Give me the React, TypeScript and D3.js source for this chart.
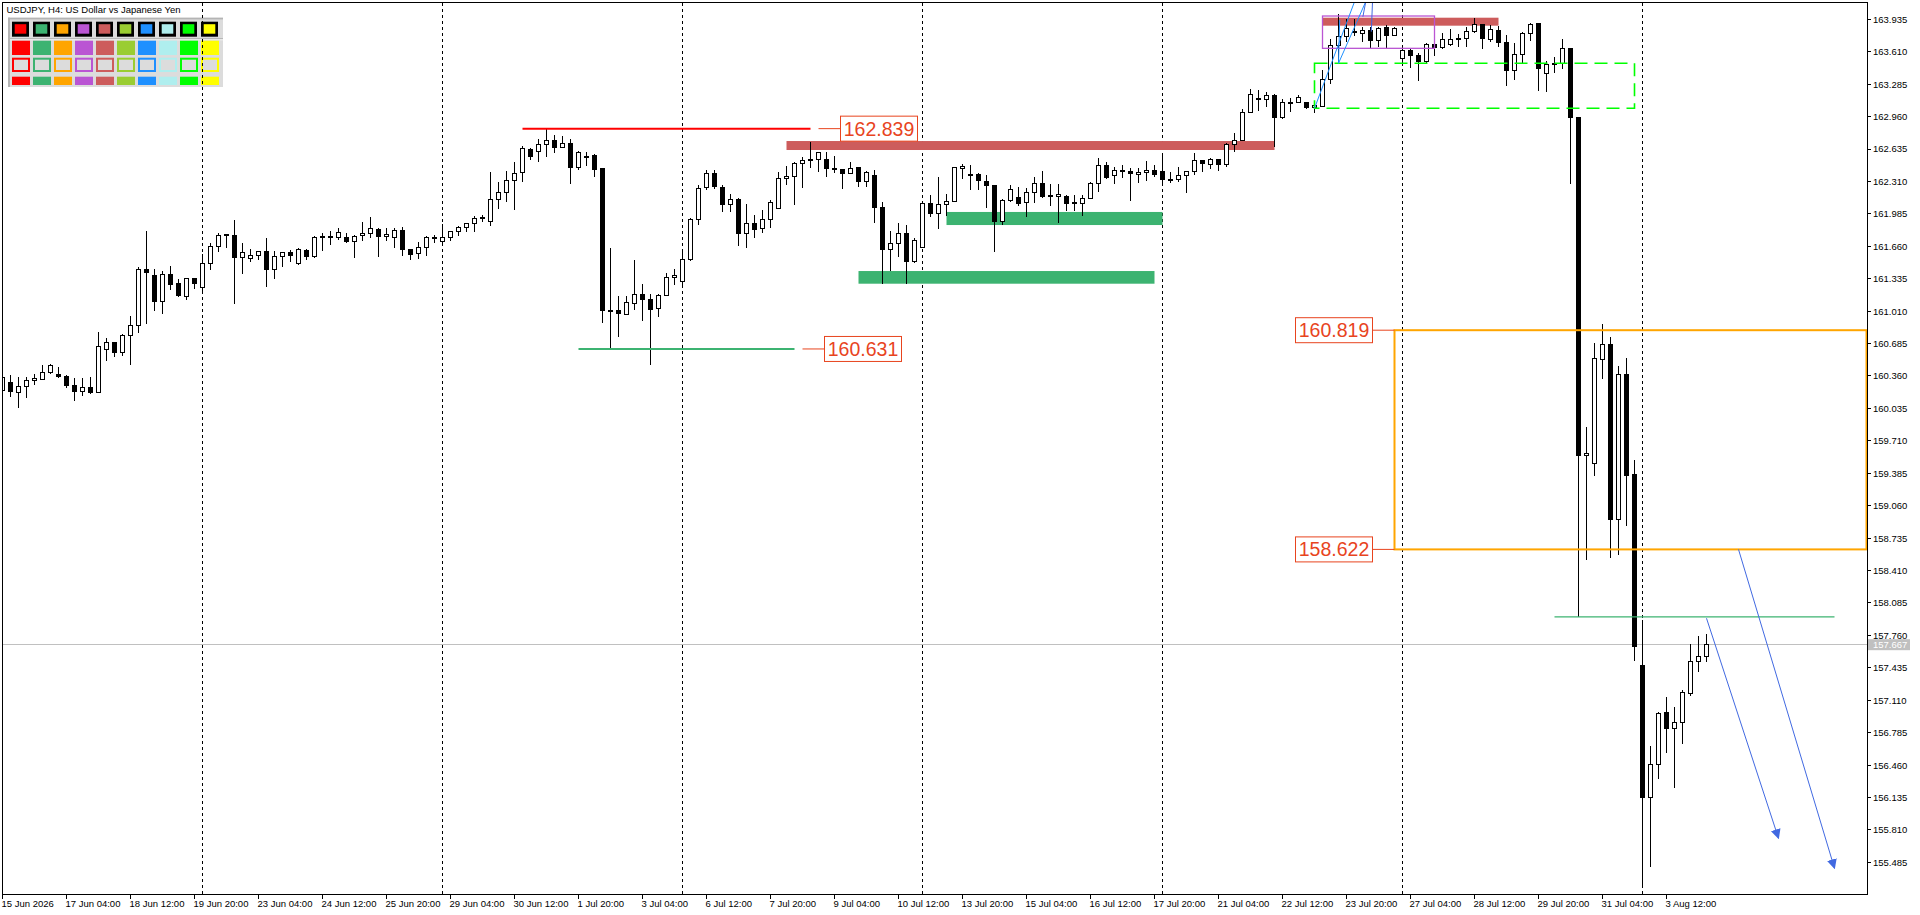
import React from "react";
import * as d3 from "d3";

const W = 1920;
const H = 915;

const openP = [
  160.213, 160.296, 160.196, 160.256, 160.316, 160.323, 160.393, 160.377, 160.357, 160.266,
  160.206, 160.246, 160.193, 160.627, 160.700, 160.597, 160.767, 160.868, 161.430, 161.363,
  161.105, 161.380, 161.283, 161.158, 161.339, 161.248, 161.490, 161.660, 161.770, 161.770,
  161.550, 161.540, 161.570, 161.610, 161.430, 161.553, 161.600, 161.486, 161.620, 161.560,
  161.753, 161.750, 161.750, 161.750, 161.710, 161.770, 161.790, 161.830, 161.757, 161.750,
  161.820, 161.630, 161.590, 161.650, 161.743, 161.707, 161.750, 161.810, 161.850, 161.890,
  161.937, 161.911, 162.131, 162.201, 162.318, 162.401, 162.632, 162.608, 162.682, 162.722,
  162.652, 162.692, 162.448, 162.555, 162.565, 162.435, 161.018, 161.021, 160.978, 161.088,
  161.178, 161.128, 161.041, 161.168, 161.352, 161.305, 161.523, 161.930, 162.248, 162.391,
  162.251, 162.074, 162.124, 161.790, 161.890, 161.840, 161.930, 162.040, 162.341, 162.358,
  162.491, 162.525, 162.532, 162.525, 162.441, 162.431, 162.391, 162.445, 162.308, 162.374,
  162.050, 161.629, 161.690, 161.790, 161.506, 161.650, 162.087, 161.990, 162.081, 162.111,
  162.441, 162.381, 162.378, 162.314, 162.271, 161.910, 162.114, 162.151, 162.100, 162.200,
  162.294, 162.167, 162.160, 162.154, 162.097, 162.090, 162.140, 162.291, 162.471, 162.374,
  162.421, 162.411, 162.384, 162.401, 162.421, 162.411, 162.334, 162.331, 162.371, 162.411,
  162.521, 162.481, 162.531, 162.478, 162.678, 162.718, 163.002, 163.139, 163.132, 163.172,
  162.949, 163.106, 163.102, 163.099, 163.052, 163.066, 163.333, 163.674, 163.767, 163.814,
  163.794, 163.824, 163.724, 163.854, 163.774, 163.540, 163.624, 163.574, 163.510, 163.684,
  163.650, 163.684, 163.744, 163.744, 163.811, 163.878, 163.734, 163.827, 163.704, 163.420,
  163.583, 163.794, 163.894, 163.393, 163.490, 163.487, 163.644, 162.952, 159.562, 159.481,
  160.527, 160.678, 158.923, 160.377, 159.375, 157.454, 156.134, 156.468, 156.989, 156.825,
  156.886, 157.180, 157.500, 157.550,
];

const highP = [
  160.353, 160.370, 160.347, 160.347, 160.376, 160.467, 160.477, 160.447, 160.367, 160.340,
  160.337, 160.347, 160.801, 160.744, 160.700, 160.777, 160.958, 161.453, 161.814, 161.430,
  161.413, 161.463, 161.333, 161.339, 161.339, 161.580, 161.690, 161.790, 161.780, 161.924,
  161.693, 161.630, 161.616, 161.743, 161.613, 161.606, 161.623, 161.643, 161.636, 161.760,
  161.790, 161.810, 161.840, 161.790, 161.773, 161.904, 161.950, 161.840, 161.840, 161.840,
  161.850, 161.630, 161.703, 161.763, 161.773, 161.880, 161.814, 161.864, 161.897, 161.961,
  161.977, 162.405, 162.305, 162.411, 162.505, 162.665, 162.642, 162.735, 162.836, 162.775,
  162.765, 162.739, 162.615, 162.602, 162.585, 162.435, 161.646, 161.165, 161.165, 161.523,
  161.282, 161.182, 161.178, 161.389, 161.432, 161.623, 161.940, 162.274, 162.425, 162.425,
  162.271, 162.181, 162.141, 162.084, 161.970, 162.024, 162.124, 162.408, 162.465, 162.501,
  162.558, 162.705, 162.608, 162.602, 162.565, 162.431, 162.501, 162.451, 162.415, 162.421,
  162.104, 161.817, 161.890, 161.870, 161.746, 162.101, 162.174, 162.351, 162.184, 162.458,
  162.488, 162.475, 162.391, 162.374, 162.278, 162.131, 162.278, 162.251, 162.247, 162.351,
  162.411, 162.284, 162.284, 162.174, 162.174, 162.174, 162.304, 162.545, 162.505, 162.451,
  162.471, 162.448, 162.448, 162.511, 162.478, 162.598, 162.408, 162.451, 162.418, 162.591,
  162.525, 162.541, 162.531, 162.691, 162.795, 163.035, 163.236, 163.226, 163.203, 163.182,
  163.132, 163.142, 163.176, 163.109, 163.102, 163.426, 163.737, 163.984, 163.934, 163.938,
  163.861, 163.861, 163.861, 163.878, 163.854, 163.644, 163.644, 163.594, 163.694, 163.694,
  163.794, 163.837, 163.784, 163.854, 163.945, 163.884, 163.878, 163.871, 163.777, 163.694,
  163.811, 163.894, 163.894, 163.517, 163.553, 163.737, 163.644, 162.960, 159.849, 160.687,
  160.881, 160.748, 160.460, 160.540, 159.518, 157.915, 156.655, 156.989, 157.146, 157.043,
  157.213, 157.674, 157.754, 157.774,
];

const lowP = [
  160.206, 160.153, 160.042, 160.143, 160.270, 160.316, 160.383, 160.343, 160.243, 160.113,
  160.163, 160.176, 160.186, 160.514, 160.554, 160.564, 160.473, 160.794, 160.884, 161.015,
  160.985, 161.226, 161.155, 161.125, 161.229, 161.198, 161.426, 161.606, 161.646, 161.078,
  161.386, 161.506, 161.519, 161.255, 161.336, 161.456, 161.506, 161.476, 161.526, 161.540,
  161.616, 161.673, 161.727, 161.693, 161.546, 161.717, 161.747, 161.553, 161.717, 161.646,
  161.563, 161.526, 161.530, 161.563, 161.697, 161.680, 161.717, 161.767, 161.807, 161.807,
  161.900, 161.867, 162.037, 162.107, 162.027, 162.308, 162.525, 162.505, 162.558, 162.598,
  162.642, 162.288, 162.421, 162.465, 162.358, 160.894, 160.631, 160.754, 160.975, 161.021,
  160.914, 160.473, 160.955, 161.165, 161.272, 161.255, 161.516, 161.873, 162.224, 162.234,
  162.007, 162.007, 161.666, 161.646, 161.746, 161.796, 161.847, 162.034, 162.274, 162.074,
  162.248, 162.441, 162.408, 162.358, 162.391, 162.238, 162.381, 162.251, 162.251, 161.890,
  161.282, 161.412, 161.549, 161.282, 161.489, 161.646, 161.950, 161.830, 161.964, 162.107,
  162.338, 162.228, 162.224, 162.040, 161.606, 161.873, 162.104, 162.064, 161.956, 162.090,
  162.140, 162.067, 161.890, 162.013, 162.016, 161.966, 162.134, 162.207, 162.334, 162.287,
  162.341, 162.117, 162.297, 162.314, 162.351, 162.280, 162.297, 162.307, 162.197, 162.377,
  162.404, 162.437, 162.418, 162.458, 162.605, 162.715, 162.992, 163.015, 163.059, 162.658,
  162.939, 163.002, 163.092, 163.035, 162.992, 163.059, 163.286, 163.493, 163.707, 163.771,
  163.710, 163.650, 163.660, 163.634, 163.771, 163.493, 163.450, 163.320, 163.483, 163.570,
  163.640, 163.670, 163.660, 163.660, 163.801, 163.634, 163.704, 163.660, 163.269, 163.330,
  163.493, 163.720, 163.219, 163.203, 163.393, 163.437, 162.287, 157.945, 158.516, 159.361,
  160.333, 158.539, 158.566, 158.860, 157.507, 155.225, 155.442, 156.321, 156.585, 156.234,
  156.675, 157.153, 157.397, 157.497,
];

const closeP = [
  160.347, 160.203, 160.256, 160.316, 160.330, 160.397, 160.467, 160.353, 160.263, 160.203,
  160.246, 160.193, 160.657, 160.700, 160.594, 160.767, 160.868, 161.430, 161.396, 161.105,
  161.380, 161.279, 161.165, 161.339, 161.289, 161.490, 161.660, 161.770, 161.777, 161.550,
  161.600, 161.570, 161.606, 161.426, 161.560, 161.596, 161.570, 161.623, 161.556, 161.750,
  161.760, 161.757, 161.797, 161.707, 161.760, 161.790, 161.840, 161.757, 161.780, 161.820,
  161.626, 161.576, 161.650, 161.747, 161.750, 161.750, 161.807, 161.850, 161.887, 161.941,
  161.944, 162.131, 162.201, 162.318, 162.391, 162.642, 162.558, 162.682, 162.722, 162.652,
  162.692, 162.448, 162.602, 162.562, 162.428, 161.015, 161.011, 160.985, 161.098, 161.178,
  161.128, 161.028, 161.168, 161.349, 161.372, 161.529, 161.933, 162.241, 162.391, 162.258,
  162.081, 162.124, 161.790, 161.890, 161.830, 161.930, 162.101, 162.341, 162.361, 162.491,
  162.515, 162.532, 162.602, 162.441, 162.435, 162.391, 162.441, 162.308, 162.398, 162.050,
  161.629, 161.690, 161.790, 161.506, 161.716, 162.087, 161.990, 162.081, 162.111, 162.445,
  162.461, 162.374, 162.321, 162.271, 161.910, 162.114, 162.231, 162.091, 162.200, 162.294,
  162.157, 162.160, 162.184, 162.087, 162.090, 162.140, 162.294, 162.471, 162.347, 162.418,
  162.414, 162.387, 162.404, 162.421, 162.377, 162.331, 162.327, 162.371, 162.411, 162.521,
  162.491, 162.531, 162.478, 162.685, 162.722, 163.002, 163.182, 163.132, 163.169, 162.949,
  163.102, 163.099, 163.149, 163.052, 163.069, 163.333, 163.674, 163.767, 163.844, 163.807,
  163.824, 163.724, 163.844, 163.771, 163.844, 163.620, 163.570, 163.510, 163.684, 163.650,
  163.734, 163.734, 163.737, 163.814, 163.878, 163.741, 163.834, 163.700, 163.420, 163.583,
  163.794, 163.884, 163.440, 163.483, 163.483, 163.640, 162.949, 159.562, 159.588, 160.537,
  160.678, 158.917, 160.377, 159.361, 157.647, 156.134, 156.468, 156.979, 156.825, 156.886,
  157.190, 157.500, 157.547, 157.667,
];

const priceTicks = [
  163.935, 163.61, 163.285, 162.96, 162.635, 162.31, 161.985, 161.66, 161.335, 161.01,
  160.685, 160.36, 160.035, 159.71, 159.385, 159.06, 158.735, 158.41, 158.085, 157.76,
  157.435, 157.11, 156.785, 156.46, 156.135, 155.81, 155.485,
];

const timeLabels = [
  "15 Jun 2026", "17 Jun 04:00", "18 Jun 12:00", "19 Jun 20:00", "23 Jun 04:00", "24 Jun 12:00",
  "25 Jun 20:00", "29 Jun 04:00", "30 Jun 12:00", "1 Jul 20:00", "3 Jul 04:00", "6 Jul 12:00",
  "7 Jul 20:00", "9 Jul 04:00", "10 Jul 12:00", "13 Jul 20:00", "15 Jul 04:00", "16 Jul 12:00",
  "17 Jul 20:00", "21 Jul 04:00", "22 Jul 12:00", "23 Jul 20:00", "27 Jul 04:00", "28 Jul 12:00",
  "29 Jul 20:00", "31 Jul 04:00", "3 Aug 12:00",
];
const timeLabelStep = 8;
const weekStartBars = [25, 55, 85, 115, 145, 175, 205];

const chartTitle = "USDJPY, H4:  US Dollar vs Japanese Yen";
const currentPrice = 157.667;

const paletteColors = [
  "#FF0000", "#3CB371", "#FFA500", "#BA55D3", "#CD5C5C",
  "#9ACD32", "#1E90FF", "#AFEEEE", "#00FF00", "#FFFF00",
];

// filled zones (bar index from/to, price top/bottom)
const zoneFrom = [98, 118, 107, 165];
const zoneTo = [159, 145, 144, 187];
const zoneTop = [162.715, 162.004, 161.412, 163.951];
const zoneBottom = [162.625, 161.873, 161.285, 163.871];
const zoneColor = ["#CD5C5C", "#3CB371", "#3CB371", "#CD5C5C"];

// labelled horizontal levels
const levelFrom = [65, 72];
const levelTo = [101, 99];
const levelPrice = [162.839, 160.631];
const levelColor = ["#FF0000", "#3CB371"];
const levelText = ["162.839", "160.631"];

// orange range box
const rangeFrom = 174;
const rangeTo = 233;
const rangeTop = 160.819;
const rangeBottom = 158.622;
const rangeText = ["160.819", "158.622"];

// thin green level
const thinLevel = { from: 194, to: 229, price: 157.945 };

// dashed lime rectangle and purple rectangle
const limeRect = { from: 164, to: 204, top: 163.494, bottom: 163.043 };
const purpleRect = { from: 165, to: 179, top: 163.968, bottom: 163.644 };

// blue trend lines near the top (bar, price, bar, price)
const trendFromBar = [164, 167, 167, 170.05, 171.1];
const trendFromPrice = [163.043, 163.494, 163.494, 163.961, 163.811];
const trendToBar = [169, 170.4, 167.15, 170.4, 171.25];
const trendToPrice = [164.111, 164.111, 163.928, 164.108, 164.108];
const trendColor = ["#1E90FF", "#1E90FF", "#1E90FF", "#4169E1", "#4169E1"];

// arrows
const arrowFromBar = [213, 217];
const arrowFromPrice = [157.932, 158.622];
const arrowToBar = [222, 229];
const arrowToPrice = [155.727, 155.426];

const LABEL_COLOR = "#E8441E";
const FONT = "'Liberation Sans', Arial, sans-serif";

export default function App() {
  const plotLeft = 3;
  const plotTop = 3;
  const plotRight = 1867;
  const plotBottom = 894;

  const x = d3.scaleLinear().domain([0, 1]).range([2.5, 10.5]);
  const y = d3.scaleLinear().domain([163.935, 155.485]).range([19.3, 862.4]);

  const bars = d3.range(openP.length);

  const candle = (k: number) => {
    const o = openP[k];
    const c = closeP[k];
    const cx = x(k);
    const bull = c > o;
    const yTop = y(Math.max(o, c));
    const yBot = y(Math.min(o, c));
    const h = Math.max(1, yBot - yTop);
    return (
      <g key={k}>
        <line x1={cx} x2={cx} y1={y(highP[k])} y2={y(lowP[k])} stroke="#000" strokeWidth={1} />
        {bull ? (
          <rect x={cx - 2} y={yTop} width={4} height={h} fill="#fff" stroke="#000" strokeWidth={1} />
        ) : (
          <rect x={cx - 2.5} y={yTop - 0.5} width={5} height={h + 1} fill="#000" />
        )}
      </g>
    );
  };

  const labelBox = (bx: number, cy: number, text: string, key: string) => (
    <g key={key}>
      <rect x={bx} y={cy - 12.5} width={77} height={25} fill="#fff" stroke={LABEL_COLOR} strokeWidth={1} />
      <text x={bx + 38.5} y={cy + 7} textAnchor="middle" fontSize={19.5} fontFamily={FONT} fill={LABEL_COLOR}>
        {text}
      </text>
    </g>
  );

  return (
    <>
      <style>{"body{margin:0;background:#fff;}"}</style>
      <svg width={W} height={H} style={{ display: "block" }} xmlns="http://www.w3.org/2000/svg">
        <defs>
          <clipPath id="plotClip">
            <rect x={plotLeft} y={plotTop} width={plotRight - plotLeft} height={plotBottom - plotTop} />
          </clipPath>
          <marker id="arrowHead" viewBox="0 0 10 10" refX="9" refY="5" markerWidth="10" markerHeight="10"
            markerUnits="userSpaceOnUse" orient="auto">
            <path d="M0,0 L10,5 L0,10 Z" fill="#4169E1" />
          </marker>
        </defs>
        <rect x={0} y={0} width={W} height={H} fill="#fff" />

        <g clipPath="url(#plotClip)">
          {/* palette panel */}
          <g>
            <rect x={8} y={17.7} width={215} height={69.3} fill="#DCDCDC" />
            <rect x={8} y={17.7} width={215} height={1.7} fill="#B4B4B4" />
            <rect x={8} y={17.7} width={2} height={69.3} fill="#B4B4B4" />
            <rect x={10} y={38.3} width={213} height={1} fill="#A8A8A8" />
            <rect x={10} y={39.3} width={213} height={1} fill="#F4F4F4" />
            {paletteColors.map((c, i) => {
              const px = 12 + 21 * i;
              return (
                <g key={"pal" + i}>
                  <rect x={px} y={21.7} width={17} height={15} fill="#000" />
                  <rect x={px + 2.7} y={24.2} width={11.6} height={9.5} fill={c} />
                  <rect x={px} y={40.7} width={18} height={14.3} fill={c} />
                  <rect x={px + 1} y={58.7} width={16} height={12.3} fill="#DCDCDC" stroke={c} strokeWidth={2} />
                  <rect x={px} y={76.7} width={18} height={8.3} fill={c} />
                </g>
              );
            })}
          </g>

          {/* week separators */}
          {weekStartBars.map((k) => (
            <line key={"g" + k} x1={x(k)} x2={x(k)} y1={plotTop} y2={plotBottom} stroke="#000"
              strokeWidth={1} strokeDasharray="3 3" shapeRendering="crispEdges" />
          ))}

          {/* current price line */}
          <line x1={plotLeft} x2={plotRight} y1={y(currentPrice)} y2={y(currentPrice)} stroke="#C0C0C0"
            strokeWidth={1} shapeRendering="crispEdges" />

          {/* filled zones */}
          {zoneFrom.map((f, i) => (
            <rect key={"z" + i} x={x(f)} y={y(zoneTop[i])} width={x(zoneTo[i]) - x(f)}
              height={y(zoneBottom[i]) - y(zoneTop[i])} fill={zoneColor[i]} />
          ))}

          {/* candles */}
          <g shapeRendering="crispEdges">{bars.map(candle)}</g>

          {/* purple rectangle */}
          <rect x={x(purpleRect.from)} y={y(purpleRect.top)} width={x(purpleRect.to) - x(purpleRect.from)}
            height={y(purpleRect.bottom) - y(purpleRect.top)} fill="none" stroke="#BA55D3" strokeWidth={1.3} />

          {/* dashed lime rectangle */}
          <rect x={x(limeRect.from)} y={y(limeRect.top)} width={x(limeRect.to) - x(limeRect.from)}
            height={y(limeRect.bottom) - y(limeRect.top)} fill="none" stroke="#00FF00" strokeWidth={1.6}
            strokeDasharray="13 7" />

          {/* blue trend lines */}
          {trendFromBar.map((b, i) => (
            <line key={"t" + i} x1={x(b)} y1={y(trendFromPrice[i])} x2={x(trendToBar[i])} y2={y(trendToPrice[i])}
              stroke={trendColor[i]} strokeWidth={1} />
          ))}

          {/* orange range box */}
          <rect x={x(rangeFrom)} y={y(rangeTop)} width={x(rangeTo) - x(rangeFrom)}
            height={y(rangeBottom) - y(rangeTop)} fill="none" stroke="#FFA500" strokeWidth={2} />

          {/* labelled levels */}
          {levelFrom.map((f, i) => (
            <line key={"lv" + i} x1={x(f)} x2={x(levelTo[i])} y1={y(levelPrice[i])} y2={y(levelPrice[i])}
              stroke={levelColor[i]} strokeWidth={2} />
          ))}

          {/* thin green level */}
          <line x1={x(thinLevel.from)} x2={x(thinLevel.to)} y1={y(thinLevel.price)} y2={y(thinLevel.price)}
            stroke="#3CB371" strokeWidth={1.2} />

          {/* arrows */}
          {arrowFromBar.map((b, i) => (
            <line key={"a" + i} x1={x(b)} y1={y(arrowFromPrice[i])} x2={x(arrowToBar[i])} y2={y(arrowToPrice[i])}
              stroke="#4169E1" strokeWidth={1} markerEnd="url(#arrowHead)" />
          ))}

          {/* level labels with connectors */}
          {levelFrom.map((f, i) => {
            const cy = y(levelPrice[i]);
            const cx0 = x(levelTo[i] + 1);
            return (
              <g key={"lb" + i}>
                <line x1={cx0} x2={cx0 + 22} y1={cy} y2={cy} stroke={LABEL_COLOR} strokeWidth={1} />
                {labelBox(cx0 + 22, cy, levelText[i], "lbb" + i)}
              </g>
            );
          })}

          {[rangeTop, rangeBottom].map((p, i) => {
            const cy = y(p);
            const right = x(rangeFrom);
            return (
              <g key={"rl" + i}>
                <line x1={right - 22} x2={right} y1={cy} y2={cy} stroke={LABEL_COLOR} strokeWidth={1} />
                {labelBox(right - 22 - 77, cy, rangeText[i], "rlb" + i)}
              </g>
            );
          })}
        </g>

        {/* title */}
        <text x={6.5} y={12.8} fontSize={9.5} fontFamily={FONT} fill="#000">{chartTitle}</text>

        {/* frame */}
        <rect x={2.5} y={2.5} width={plotRight - 2} height={plotBottom - 2} fill="none" stroke="#000"
          strokeWidth={1} shapeRendering="crispEdges" />

        {/* price axis */}
        {priceTicks.map((p) => (
          <g key={"pt" + p}>
            <line x1={plotRight} x2={plotRight + 4} y1={y(p)} y2={y(p)} stroke="#000" shapeRendering="crispEdges" />
            <text x={plotRight + 6} y={y(p) + 3.4} fontSize={9.5} fontFamily={FONT} fill="#000">
              {p.toFixed(3)}
            </text>
          </g>
        ))}
        <rect x={plotRight + 1} y={y(currentPrice) - 5.5} width={42} height={11} fill="#C0C0C0" />
        <text x={plotRight + 6} y={y(currentPrice) + 3.4} fontSize={9.5} fontFamily={FONT} fill="#fff">
          {currentPrice.toFixed(3)}
        </text>

        {/* time axis */}
        {timeLabels.map((t, i) => {
          const k = i * timeLabelStep;
          const tx = x(k);
          return (
            <g key={"tl" + i}>
              <line x1={tx} x2={tx} y1={plotBottom} y2={plotBottom + 5} stroke="#000" shapeRendering="crispEdges" />
              <text x={tx - 1} y={906.8} fontSize={9.5} fontFamily={FONT} fill="#000">{t}</text>
            </g>
          );
        })}
      </svg>
    </>
  );
}
